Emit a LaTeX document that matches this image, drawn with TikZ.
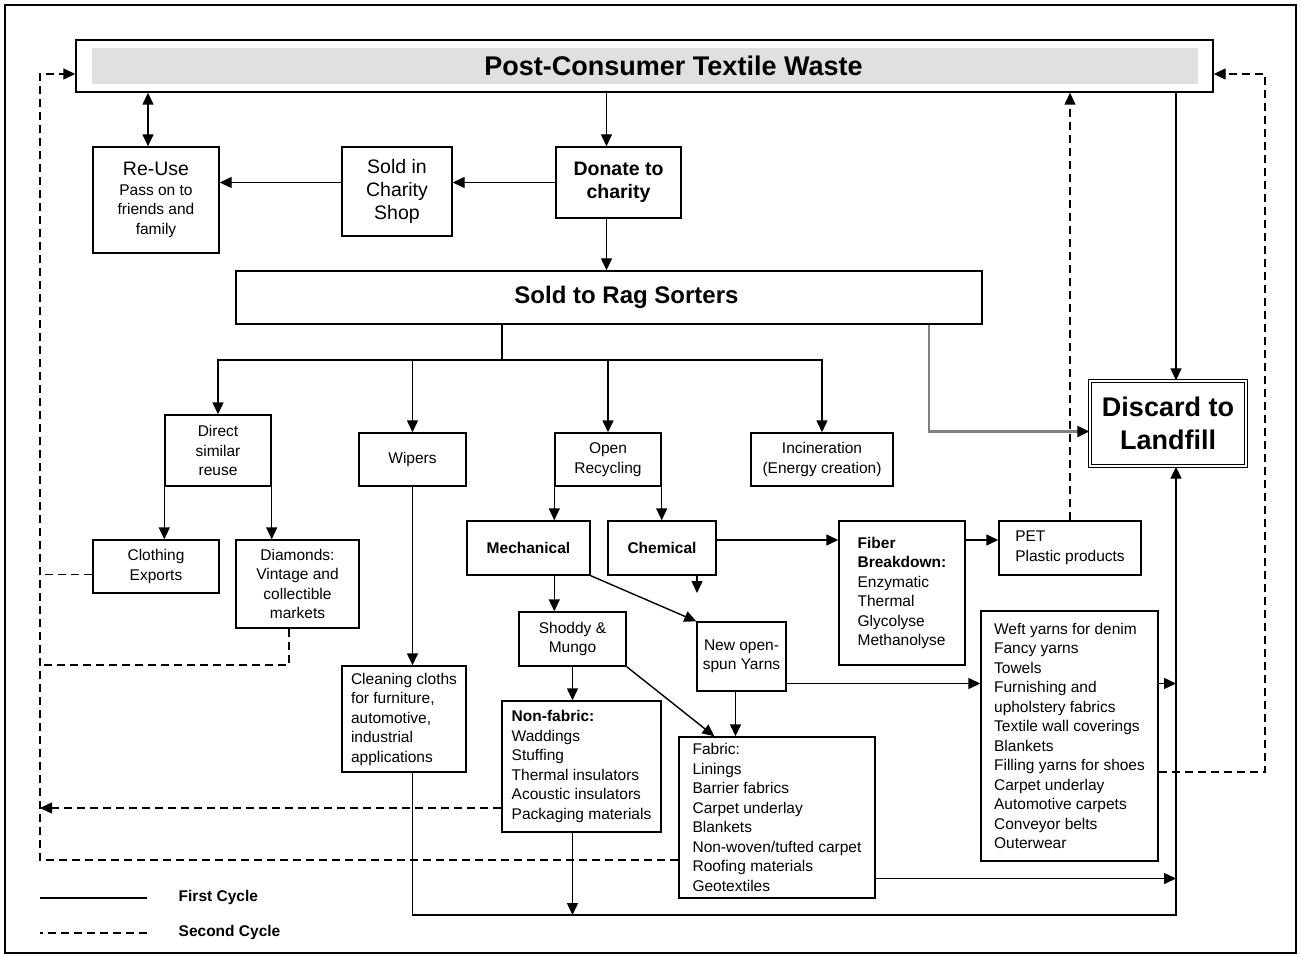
\documentclass[tikz,border=0pt]{standalone}
\usepackage{fontspec}
\setmainfont{Liberation Sans}
\usetikzlibrary{arrows.meta,positioning}

\begin{document}
\begin{tikzpicture}[x=1pt, y=-1pt,
    every node/.style={draw, line width=1.4pt, inner sep=0pt, align=center,
        font=\fontsize{15.5}{19.5}\selectfont},
    wh/.style 2 args={minimum width=#1, minimum height=#2},
    big/.style={font=\fontsize{19.5}{23}\selectfont},
    bigb/.style={font=\bfseries\fontsize{19.5}{23}\selectfont},
    bld/.style={font=\bfseries\fontsize{15.5}{19.5}\selectfont},
    list/.style={align=left},
    legend/.style={draw=none, anchor=west, bld},
    line/.style={line width=1.4pt},
    arr/.style={line width=1.4pt, -{Triangle[length=12pt,width=11pt]}},
    arrs/.style={line width=1.4pt, {Triangle[length=12pt,width=11pt]}-{Triangle[length=12pt,width=11pt]}},
    recyc/.style={line width=1.4pt, dash pattern=on 8pt off 5pt},
    recarr/.style={recyc, -{Triangle[length=12pt,width=11pt]}},
    grayarr/.style={line width=2.2pt, black!50, -{Triangle[length=12pt,width=11pt,color=black]}}]
    \useasboundingbox (0,0) rectangle (1301,957);
    \draw[line width=2pt] (5,5) rectangle (1296,953);

    \node[wh={1137pt}{52pt}, font=\bfseries\fontsize{27}{32}\selectfont,
        path picture={\fill[black!12] ([xshift=16pt,yshift=-8pt]path picture bounding box.north west)
            rectangle ([xshift=-15pt,yshift=8pt]path picture bounding box.south east);}]
        (waste) at (644.5,66) {\hspace*{58pt}Post-Consumer Textile Waste};
    \node[wh={126pt}{106pt}] (reuse) at (156,200)
        {{\fontsize{19.5}{23}\selectfont Re-Use}\\Pass on to\\friends and\\family};
    \node[big, wh={110pt}{89pt}] (shop) at (397,191.5) {Sold in\\Charity\\Shop};
    \node[bigb, wh={125pt}{71pt}] (donate) at (618.5,182.5) {Donate to\\charity};
    \node[wh={746pt}{53pt}, font=\bfseries\fontsize{24}{28}\selectfont] (rag) at (609,297.5)
        {\hspace*{35pt}Sold to Rag Sorters};

    \node[wh={106pt}{71pt}] (direct) at (218,450.5) {Direct\\similar\\reuse};
    \node[wh={107pt}{53pt}] (wipers) at (412.5,459.5) {Wipers};
    \node[wh={106pt}{53pt}] (openrec) at (608,459.5) {Open\\Recycling};
    \node[wh={142pt}{53pt}] (incin) at (822,459.5) {Incineration\\(Energy creation)};
    \node[wh={156pt}{85pt}, double, double distance=2pt,
        font=\bfseries\fontsize{27}{33}\selectfont] (landfill) at (1168,423.5) {Discard to\\Landfill};

    \node[wh={126pt}{53pt}] (export) at (156,566.5) {Clothing\\Exports};
    \node[wh={123pt}{88pt}] (diamonds) at (297.5,584) {Diamonds:\\Vintage and\\collectible\\markets};
    \node[bld, wh={123pt}{54pt}] (mech) at (528.5,548) {Mechanical};
    \node[bld, wh={108pt}{54pt}] (chem) at (662,548) {Chemical};
    \node[list, wh={126pt}{144pt}] (fiber) at (902,593)
        {\textbf{Fiber}\\\textbf{Breakdown:}\\Enzymatic\\Thermal\\Glycolyse\\Methanolyse};
    \node[list, wh={142pt}{54pt}] (pet) at (1070,548) {PET\\Plastic products};
    \node[wh={107pt}{54pt}] (shoddy) at (572.5,639) {Shoddy \&\\Mungo};
    \node[wh={89pt}{69pt}] (newyarn) at (741.5,656.5) {New open-\\spun Yarns};
    \node[list, wh={124pt}{106pt}] (cloths) at (404,719)
        {Cleaning cloths\\for furniture,\\automotive,\\industrial\\applications};
    \node[list, wh={159pt}{131pt}] (nonfab) at (581.5,766.5)
        {\textbf{Non-fabric:}\\Waddings\\Stuffing\\Thermal insulators\\Acoustic insulators\\Packaging materials};
    \node[list, wh={196pt}{161pt}] (fabric) at (777,817.5)
        {Fabric:\\Linings\\Barrier fabrics\\Carpet underlay\\Blankets\\Non-woven/tufted carpet\\Roofing materials\\Geotextiles};
    \node[list, wh={177pt}{250pt}] (weft) at (1069.5,736)
        {Weft yarns for denim\\Fancy yarns\\Towels\\Furnishing and\\upholstery fabrics\\Textile wall coverings\\Blankets\\Filling yarns for shoes\\Carpet underlay\\Automotive carpets\\Conveyor belts\\Outerwear};

    \coordinate (bus) at (502,360);
    \coordinate (spine) at (1176,915);
    \coordinate (chemout) at (697,593);
    \coordinate (lloop) at (40,74);
    \coordinate (lbase) at (40,860);
    \coordinate (rloop) at (1265,74);
    \coordinate (dmd) at (289,665);

    \draw[arr] ([xshift=-12pt]donate.north |- waste.south) -- ([xshift=-12pt]donate.north);
    \draw[arr] (donate.west) -- (donate.west -| shop.east);
    \draw[arr] (donate.west -| shop.west) -- (donate.west -| reuse.east);
    \draw[arrs] ([xshift=-8pt]reuse.north) -- ([xshift=-8pt]reuse.north |- waste.south);
    \draw[arr] ([xshift=-12pt]donate.south) -- ([xshift=-12pt]donate.south |- rag.north);

    \draw[line] (rag.south -| bus) -- (bus);
    \draw[arr] (bus) -| (direct);
    \draw[arr] (bus) -| (wipers);
    \draw[arr] (bus) -| (openrec);
    \draw[arr] (bus) -| (incin);
    \draw[grayarr] ([xshift=320pt]rag.south) |- ([yshift=-8pt]landfill.west);
    \draw[arr] (spine |- waste.south) -- (spine |- landfill.north);

    \draw[arr] (direct.south west) -- (direct.south west |- export.north);
    \draw[arr] (direct.south east) -- (direct.south east |- diamonds.north);
    \draw[arr] (wipers.south) -- (wipers.south |- cloths.north);
    \draw[arr] (openrec.south west) -- (openrec.south west |- mech.north);
    \draw[arr] (openrec.south east) -- (openrec.south east |- chem.north);
    \draw[arr] ([yshift=8pt]chem.east) -- ([yshift=8pt]chem.east -| fiber.west);
    \draw[arr] ([yshift=8pt]chem.east -| fiber.east) -- ([yshift=8pt]chem.east -| pet.west);
    \draw[arr] (chem.south -| chemout) -- (chemout);
    \draw[arr] (mech.south -| openrec.south west) -- (openrec.south west |- shoddy.north);
    \draw[arr] (mech.south east) -- (newyarn.north west);
    \draw[arr] (shoddy.south) -- (shoddy.south |- nonfab.north);
    \draw[arr] (shoddy.south east) -- ([xshift=36pt]fabric.north west);
    \draw[arr] ([xshift=-6pt]newyarn.south) -- ([xshift=-6pt]newyarn.south |- fabric.north);
    \draw[arr] ([yshift=-27pt]newyarn.east) -- ([yshift=-27pt]newyarn.east -| weft.west);
    \draw[arr] ([yshift=-27pt]newyarn.east -| weft.east) -- ([yshift=-27pt]newyarn.east -| spine);
    \draw[arr] ([yshift=-61pt]fabric.east) -- ([yshift=-61pt]fabric.east -| spine);
    \draw[arr] (wipers.south |- cloths.south) -- (wipers.south |- spine) -- (spine) -- (spine |- landfill.south);
    \draw[arr] (shoddy.south |- nonfab.south) -- (shoddy.south |- spine);

    \draw[recarr] (pet.north) -- (pet.north |- waste.south);
    \draw[recarr] ([yshift=-36pt]weft.east) -| (rloop) -- (rloop -| waste.east);
    \draw[recarr] (fabric.west |- lbase) -- (lbase) -- (lloop) -- (lloop -| waste.west);
    \draw[recyc] ([yshift=-8pt]export.west) -- ([yshift=-8pt]export.west -| lloop);
    \draw[recyc] (diamonds.south -| dmd) -- (dmd) -- (dmd -| lloop);
    \draw[recarr] ([yshift=-41.5pt]nonfab.west) -- ([yshift=-41.5pt]nonfab.west -| lloop);

    \node[legend] (first) at (178,897) {First Cycle};
    \node[legend] (second) at (178,932) {Second Cycle};
    \draw[line] ([xshift=-31pt,yshift=-1pt]first.west) -- ([xshift=-138pt,yshift=-1pt]first.west);
    \draw[recyc] ([xshift=-31pt,yshift=-1pt]second.west) -- ([xshift=-138pt,yshift=-1pt]second.west);
\end{tikzpicture}
\end{document}
